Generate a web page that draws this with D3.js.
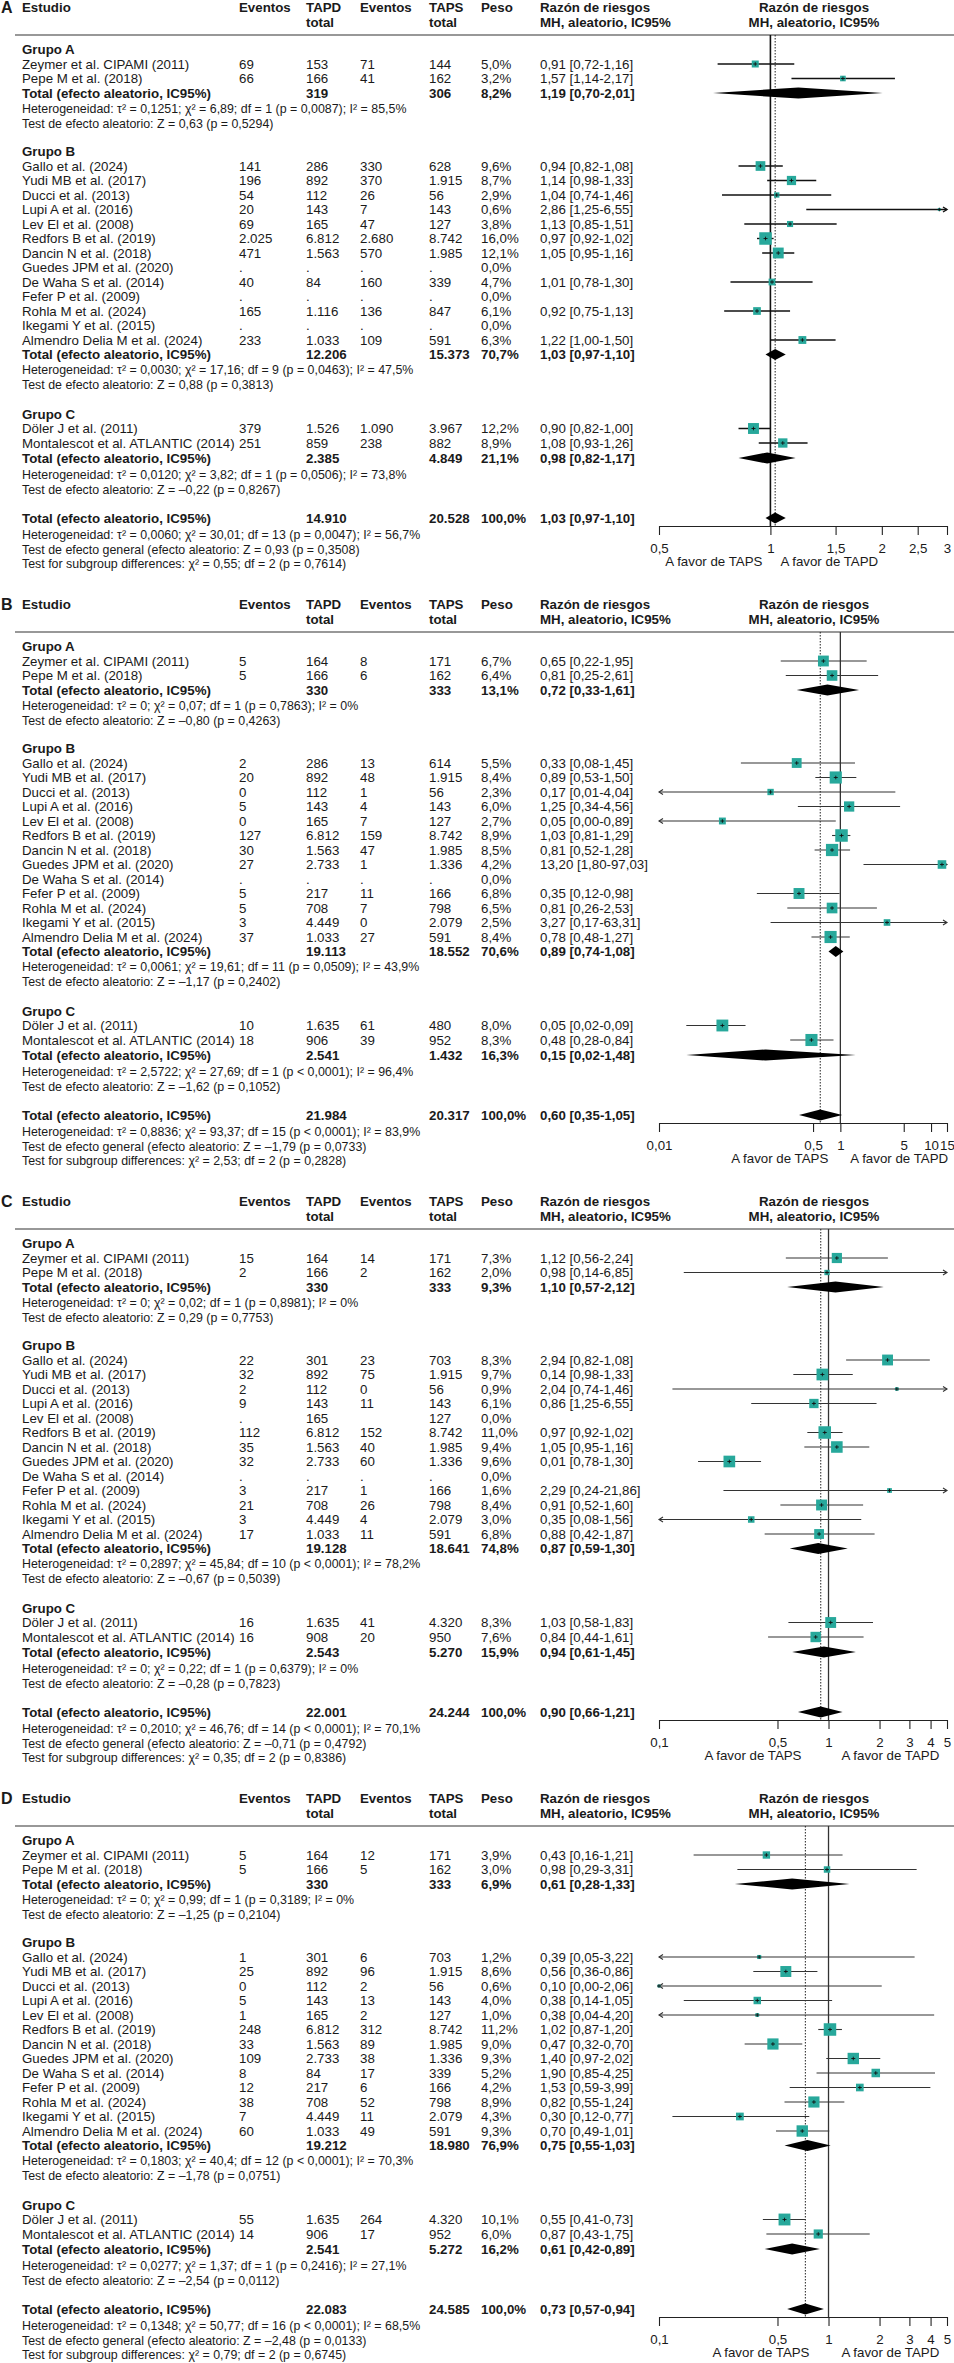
<!DOCTYPE html>
<html><head><meta charset="utf-8">
<script src="https://cdn.jsdelivr.net/npm/d3@7"></script>
<style>
body{margin:0;background:#fff}
svg{display:block}
text{font-family:"Liberation Sans",Arial,Helvetica,sans-serif;fill:#1a1a1a}
</style>
</head><body>
<svg id="chart" width="954" height="2363"></svg>
<script>
// ---------- shared labels ----------
const studyNames = ["Zeymer et al. CIPAMI (2011)","Pepe M et al. (2018)",
 "Gallo et al. (2024)","Yudi MB et al. (2017)","Ducci et al. (2013)","Lupi A et al. (2016)","Lev El et al. (2008)",
 "Redfors B et al. (2019)","Dancin N et al. (2018)","Guedes JPM et al. (2020)","De Waha S et al. (2014)",
 "Fefer P et al. (2009)","Rohla M et al. (2024)","Ikegami Y et al. (2015)","Almendro Delia M et al. (2024)",
 "Döler J et al. (2011)","Montalescot et al. ATLANTIC (2014)"];
const groupNames = ["Grupo A","Grupo B","Grupo C"];
const totalLabel = "Total (efecto aleatorio, IC95%)";

// ---------- Panel A ----------
const A_evD  = ["69","66","141","196","54","20","69","2.025","471",".","40",".","165",".","233","379","251"];
const A_totD = ["153","166","286","892","112","143","165","6.812","1.563",".","84",".","1.116",".","1.033","1.526","859"];
const A_evS  = ["71","41","330","370","26","7","47","2.680","570",".","160",".","136",".","109","1.090","238"];
const A_totS = ["144","162","628","1.915","56","143","127","8.742","1.985",".","339",".","847",".","591","3.967","882"];
const A_peso = ["5,0%","3,2%","9,6%","8,7%","2,9%","0,6%","3,8%","16,0%","12,1%","0,0%","4,7%","0,0%","6,1%","0,0%","6,3%","12,2%","8,9%"];
const A_rr   = ["0,91 [0,72-1,16]","1,57 [1,14-2,17]","0,94 [0,82-1,08]","1,14 [0,98-1,33]","1,04 [0,74-1,46]","2,86 [1,25-6,55]","1,13 [0,85-1,51]","0,97 [0,92-1,02]","1,05 [0,95-1,16]","","1,01 [0,78-1,30]","","0,92 [0,75-1,13]","","1,22 [1,00-1,50]","0,90 [0,82-1,00]","1,08 [0,93-1,26]"];
const A_est  = [0.91,1.57,0.94,1.14,1.04,2.86,1.13,0.97,1.05,null,1.01,null,0.92,null,1.22,0.90,1.08];
const A_lo   = [0.72,1.14,0.82,0.98,0.74,1.25,0.85,0.92,0.95,null,0.78,null,0.75,null,1.00,0.82,0.93];
const A_hi   = [1.16,2.17,1.08,1.33,1.46,6.55,1.51,1.02,1.16,null,1.30,null,1.13,null,1.50,1.00,1.26];
const A_w    = [5.0,3.2,9.6,8.7,2.9,0.6,3.8,16.0,12.1,0,4.7,0,6.1,0,6.3,12.2,8.9];
const A_sumTotD = ["319","12.206","2.385","14.910"];
const A_sumTotS = ["306","15.373","4.849","20.528"];
const A_sumPeso = ["8,2%","70,7%","21,1%","100,0%"];
const A_sumRR   = ["1,19 [0,70-2,01]","1,03 [0,97-1,10]","0,98 [0,82-1,17]","1,03 [0,97-1,10]"];
const A_sumEst  = [1.19,1.03,0.98,1.03];
const A_sumLo   = [0.70,0.97,0.82,0.97];
const A_sumHi   = [2.01,1.10,1.17,1.10];
const A_het = [
 ["Heterogeneidad: τ² = 0,1251; χ² = 6,89; df = 1 (p = 0,0087); I² = 85,5%","Test de efecto aleatorio: Z = 0,63 (p = 0,5294)"],
 ["Heterogeneidad: τ² = 0,0030; χ² = 17,16; df = 9 (p = 0,0463); I² = 47,5%","Test de efecto aleatorio: Z = 0,88 (p = 0,3813)"],
 ["Heterogeneidad: τ² = 0,0120; χ² = 3,82; df = 1 (p = 0,0506); I² = 73,8%","Test de efecto aleatorio: Z = –0,22 (p = 0,8267)"],
 ["Heterogeneidad: τ² = 0,0060; χ² = 30,01; df = 13 (p = 0,0047); I² = 56,7%","Test de efecto general (efecto aleatorio: Z = 0,93 (p = 0,3508)","Test for subgroup differences: χ² = 0,55; df = 2 (p = 0,7614)"]];
const A_ticks = [0.5,1,1.5,2,2.5,3];
const A_tickLabels = ["0,5","1","1,5","2","2,5","3"];

// ---------- Panel B ----------
const B_evD  = ["5","5","2","20","0","5","0","127","30","27",".","5","5","3","37","10","18"];
const B_totD = ["164","166","286","892","112","143","165","6.812","1.563","2.733",".","217","708","4.449","1.033","1.635","906"];
const B_evS  = ["8","6","13","48","1","4","7","159","47","1",".","11","7","0","27","61","39"];
const B_totS = ["171","162","614","1.915","56","143","127","8.742","1.985","1.336",".","166","798","2.079","591","480","952"];
const B_peso = ["6,7%","6,4%","5,5%","8,4%","2,3%","6,0%","2,7%","8,9%","8,5%","4,2%","0,0%","6,8%","6,5%","2,5%","8,4%","8,0%","8,3%"];
const B_rr   = ["0,65 [0,22-1,95]","0,81 [0,25-2,61]","0,33 [0,08-1,45]","0,89 [0,53-1,50]","0,17 [0,01-4,04]","1,25 [0,34-4,56]","0,05 [0,00-0,89]","1,03 [0,81-1,29]","0,81 [0,52-1,28]","13,20 [1,80-97,03]","","0,35 [0,12-0,98]","0,81 [0,26-2,53]","3,27 [0,17-63,31]","0,78 [0,48-1,27]","0,05 [0,02-0,09]","0,48 [0,28-0,84]"];
const B_est  = [0.65,0.81,0.33,0.89,0.17,1.25,0.05,1.03,0.81,13.20,null,0.35,0.81,3.27,0.78,0.05,0.48];
const B_lo   = [0.22,0.25,0.08,0.53,0.01,0.34,0.00,0.81,0.52,1.80,null,0.12,0.26,0.17,0.48,0.02,0.28];
const B_hi   = [1.95,2.61,1.45,1.50,4.04,4.56,0.89,1.29,1.28,97.03,null,0.98,2.53,63.31,1.27,0.09,0.84];
const B_w    = [6.7,6.4,5.5,8.4,2.3,6.0,2.7,8.9,8.5,4.2,0,6.8,6.5,2.5,8.4,8.0,8.3];
const B_sumTotD = ["330","19.113","2.541","21.984"];
const B_sumTotS = ["333","18.552","1.432","20.317"];
const B_sumPeso = ["13,1%","70,6%","16,3%","100,0%"];
const B_sumRR   = ["0,72 [0,33-1,61]","0,89 [0,74-1,08]","0,15 [0,02-1,48]","0,60 [0,35-1,05]"];
const B_sumEst  = [0.72,0.89,0.15,0.60];
const B_sumLo   = [0.33,0.74,0.02,0.35];
const B_sumHi   = [1.61,1.08,1.48,1.05];
const B_het = [
 ["Heterogeneidad: τ² = 0; χ² = 0,07; df = 1 (p = 0,7863); I² = 0%","Test de efecto aleatorio: Z = –0,80 (p = 0,4263)"],
 ["Heterogeneidad: τ² = 0,0061; χ² = 19,61; df = 11 (p = 0,0509); I² = 43,9%","Test de efecto aleatorio: Z = –1,17 (p = 0,2402)"],
 ["Heterogeneidad: τ² = 2,5722; χ² = 27,69; df = 1 (p < 0,0001); I² = 96,4%","Test de efecto aleatorio: Z = –1,62 (p = 0,1052)"],
 ["Heterogeneidad: τ² = 0,8836; χ² = 93,37; df = 15 (p < 0,0001); I² = 83,9%","Test de efecto general (efecto aleatorio: Z = –1,79 (p = 0,0733)","Test for subgroup differences: χ² = 2,53; df = 2 (p = 0,2828)"]];
const B_ticks = [0.01,0.5,1,5,10,15];
const B_tickLabels = ["0,01","0,5","1","5","10","15"];

// ---------- Panel C ----------
const C_evD  = ["15","2","22","32","2","9",".","112","35","32",".","3","21","3","17","16","16"];
const C_totD = ["164","166","301","892","112","143","165","6.812","1.563","2.733",".","217","708","4.449","1.033","1.635","908"];
const C_evS  = ["14","2","23","75","0","11","","152","40","60",".","1","26","4","11","41","20"];
const C_totS = ["171","162","703","1.915","56","143","127","8.742","1.985","1.336",".","166","798","2.079","591","4.320","950"];
const C_peso = ["7,3%","2,0%","8,3%","9,7%","0,9%","6,1%","0,0%","11,0%","9,4%","9,6%","0,0%","1,6%","8,4%","3,0%","6,8%","8,3%","7,6%"];
const C_rr   = ["1,12 [0,56-2,24]","0,98 [0,14-6,85]","2,94 [0,82-1,08]","0,14 [0,98-1,33]","2,04 [0,74-1,46]","0,86 [1,25-6,55]","","0,97 [0,92-1,02]","1,05 [0,95-1,16]","0,01 [0,78-1,30]","","2,29 [0,24-21,86]","0,91 [0,52-1,60]","0,35 [0,08-1,56]","0,88 [0,42-1,87]","1,03 [0,58-1,83]","0,84 [0,44-1,61]"];
const C_est  = [1.12,0.98,2.23,0.92,2.53,0.82,null,0.95,1.12,0.26,null,2.29,0.91,0.35,0.88,1.03,0.84];
const C_lo   = [0.56,0.14,1.27,0.62,0.12,0.35,null,0.75,0.72,0.17,null,0.24,0.52,0.08,0.42,0.58,0.44];
const C_hi   = [2.24,6.85,3.96,1.39,52.0,1.92,null,1.21,1.74,0.40,null,21.86,1.60,1.56,1.87,1.83,1.61];
const C_w    = [7.3,2.0,8.3,9.7,0.9,6.1,0,11.0,9.4,9.6,0,1.6,8.4,3.0,6.8,8.3,7.6];
const C_sumTotD = ["330","19.128","2.543","22.001"];
const C_sumTotS = ["333","18.641","5.270","24.244"];
const C_sumPeso = ["9,3%","74,8%","15,9%","100,0%"];
const C_sumRR   = ["1,10 [0,57-2,12]","0,87 [0,59-1,30]","0,94 [0,61-1,45]","0,90 [0,66-1,21]"];
const C_sumEst  = [1.10,0.87,0.94,0.90];
const C_sumLo   = [0.57,0.59,0.61,0.66];
const C_sumHi   = [2.12,1.30,1.45,1.21];
const C_het = [
 ["Heterogeneidad: τ² = 0; χ² = 0,02; df = 1 (p = 0,8981); I² = 0%","Test de efecto aleatorio: Z = 0,29 (p = 0,7753)"],
 ["Heterogeneidad: τ² = 0,2897; χ² = 45,84; df = 10 (p < 0,0001); I² = 78,2%","Test de efecto aleatorio: Z = –0,67 (p = 0,5039)"],
 ["Heterogeneidad: τ² = 0; χ² = 0,22; df = 1 (p = 0,6379); I² = 0%","Test de efecto aleatorio: Z = –0,28 (p = 0,7823)"],
 ["Heterogeneidad: τ² = 0,2010; χ² = 46,76; df = 14 (p < 0,0001); I² = 70,1%","Test de efecto general (efecto aleatorio: Z = –0,71 (p = 0,4792)","Test for subgroup differences: χ² = 0,35; df = 2 (p = 0,8386)"]];
const C_ticks = [0.1,0.5,1,2,3,4,5];
const C_tickLabels = ["0,1","0,5","1","2","3","4","5"];

// ---------- Panel D ----------
const D_evD  = ["5","5","1","25","0","5","1","248","33","109","8","12","38","7","60","55","14"];
const D_totD = ["164","166","301","892","112","143","165","6.812","1.563","2.733","84","217","708","4.449","1.033","1.635","906"];
const D_evS  = ["12","5","6","96","2","13","2","312","89","38","17","6","52","11","49","264","17"];
const D_totS = ["171","162","703","1.915","56","143","127","8.742","1.985","1.336","339","166","798","2.079","591","4.320","952"];
const D_peso = ["3,9%","3,0%","1,2%","8,6%","0,6%","4,0%","1,0%","11,2%","9,0%","9,3%","5,2%","4,2%","8,9%","4,3%","9,3%","10,1%","6,0%"];
const D_rr   = ["0,43 [0,16-1,21]","0,98 [0,29-3,31]","0,39 [0,05-3,22]","0,56 [0,36-0,86]","0,10 [0,00-2,06]","0,38 [0,14-1,05]","0,38 [0,04-4,20]","1,02 [0,87-1,20]","0,47 [0,32-0,70]","1,40 [0,97-2,02]","1,90 [0,85-4,25]","1,53 [0,59-3,99]","0,82 [0,55-1,24]","0,30 [0,12-0,77]","0,70 [0,49-1,01]","0,55 [0,41-0,73]","0,87 [0,43-1,75]"];
const D_est  = [0.43,0.98,0.39,0.56,0.10,0.38,0.38,1.02,0.47,1.40,1.90,1.53,0.82,0.30,0.70,0.55,0.87];
const D_lo   = [0.16,0.29,0.05,0.36,0.00,0.14,0.04,0.87,0.32,0.97,0.85,0.59,0.55,0.12,0.49,0.41,0.43];
const D_hi   = [1.21,3.31,3.22,0.86,2.06,1.05,4.20,1.20,0.70,2.02,4.25,3.99,1.24,0.77,1.01,0.73,1.75];
const D_w    = [3.9,3.0,1.2,8.6,0.6,4.0,1.0,11.2,9.0,9.3,5.2,4.2,8.9,4.3,9.3,10.1,6.0];
const D_sumTotD = ["330","19.212","2.541","22.083"];
const D_sumTotS = ["333","18.980","5.272","24.585"];
const D_sumPeso = ["6,9%","76,9%","16,2%","100,0%"];
const D_sumRR   = ["0,61 [0,28-1,33]","0,75 [0,55-1,03]","0,61 [0,42-0,89]","0,73 [0,57-0,94]"];
const D_sumEst  = [0.61,0.75,0.61,0.73];
const D_sumLo   = [0.28,0.55,0.42,0.57];
const D_sumHi   = [1.33,1.03,0.89,0.94];
const D_het = [
 ["Heterogeneidad: τ² = 0; χ² = 0,99; df = 1 (p = 0,3189; I² = 0%","Test de efecto aleatorio: Z = –1,25 (p = 0,2104)"],
 ["Heterogeneidad: τ² = 0,1803; χ² = 40,4; df = 12 (p < 0,0001); I² = 70,3%","Test de efecto aleatorio: Z = –1,78 (p = 0,0751)"],
 ["Heterogeneidad: τ² = 0,0277; χ² = 1,37; df = 1 (p = 0,2416); I² = 27,1%","Test de efecto aleatorio: Z = –2,54 (p = 0,0112)"],
 ["Heterogeneidad: τ² = 0,1348; χ² = 50,77; df = 16 (p < 0,0001); I² = 68,5%","Test de efecto general (efecto aleatorio: Z = –2,48 (p = 0,0133)","Test for subgroup differences: χ² = 0,79; df = 2 (p = 0,6745)"]];
const D_ticks = [0.1,0.5,1,2,3,4,5];
const D_tickLabels = ["0,1","0,5","1","2","3","4","5"];

// ---------- panel assembly ----------
const panels = [
 {letter:"A", evD:A_evD, totD:A_totD, evS:A_evS, totS:A_totS, peso:A_peso, rr:A_rr, est:A_est, lo:A_lo, hi:A_hi, w:A_w,
  sTotD:A_sumTotD, sTotS:A_sumTotS, sPeso:A_sumPeso, sRR:A_sumRR, sEst:A_sumEst, sLo:A_sumLo, sHi:A_sumHi, het:A_het,
  ticks:A_ticks, tickLabels:A_tickLabels, favL:8, favR:10, lc:"#111", lw:1.4},
 {letter:"B", evD:B_evD, totD:B_totD, evS:B_evS, totS:B_totS, peso:B_peso, rr:B_rr, est:B_est, lo:B_lo, hi:B_hi, w:B_w,
  sTotD:B_sumTotD, sTotS:B_sumTotS, sPeso:B_sumPeso, sRR:B_sumRR, sEst:B_sumEst, sLo:B_sumLo, sHi:B_sumHi, het:B_het,
  ticks:B_ticks, tickLabels:B_tickLabels, favL:12, favR:10, lc:"#333", lw:1.1},
 {letter:"C", evD:C_evD, totD:C_totD, evS:C_evS, totS:C_totS, peso:C_peso, rr:C_rr, est:C_est, lo:C_lo, hi:C_hi, w:C_w,
  sTotD:C_sumTotD, sTotS:C_sumTotS, sPeso:C_sumPeso, sRR:C_sumRR, sEst:C_sumEst, sLo:C_sumLo, sHi:C_sumHi, het:C_het,
  ticks:C_ticks, tickLabels:C_tickLabels, favL:27, favR:13, lc:"#333", lw:1.1},
 {letter:"D", evD:D_evD, totD:D_totD, evS:D_evS, totS:D_totS, peso:D_peso, rr:D_rr, est:D_est, lo:D_lo, hi:D_hi, w:D_w,
  sTotD:D_sumTotD, sTotS:D_sumTotS, sPeso:D_sumPeso, sRR:D_sumRR, sEst:D_sumEst, sLo:D_sumLo, sHi:D_sumHi, het:D_het,
  ticks:D_ticks, tickLabels:D_tickLabels, favL:19, favR:13, lc:"#333", lw:1.1}
];

// ---------- layout ----------
const panelY = d3.scaleLinear().domain([0,1]).range([7, 604]);   // panel top (header text centre)
const COL = {study:22, evD:239, totD:306, evS:360, totS:429, peso:481, rr:540, plotHead:814};
const XR = [659, 947];
const FS = 13.3, FSH = 12.4;
const TEAL = "#27a89b";
const L = {h1:0, h2:15.5, rule:28, grp:[42,144,407], tot:[86,347.5,451],
  het:[[102,117],[362.5,377.5],[468,483]], overall:511, overallHet:[528,542.5,557],
  axis:519, tickLab:541, favor:554};
function studyY(i){ return i<2 ? 57+14.5*i : (i<15 ? 159+14.5*(i-2) : 421.5+14.5*(i-15)); }

const svg = d3.select("#chart");

panels.forEach((p, pi) => {
  const g = svg.append("g").attr("transform", `translate(0,${panelY(pi)})`);
  const txt = (x, y, s, opt={}) => g.append("text").attr("x", x).attr("y", y).attr("dy","0.35em")
     .attr("font-size", opt.fs||FS).attr("font-weight", opt.bold?"bold":"normal")
     .attr("text-anchor", opt.anchor||"start").text(s);

  // panel letter
  txt(1, L.h1, p.letter, {bold:true, fs:16});
  // header
  txt(COL.study, L.h1, "Estudio", {bold:true});
  txt(COL.evD, L.h1, "Eventos", {bold:true});
  txt(COL.totD, L.h1, "TAPD", {bold:true}); txt(COL.totD, L.h2, "total", {bold:true});
  txt(COL.evS, L.h1, "Eventos", {bold:true});
  txt(COL.totS, L.h1, "TAPS", {bold:true}); txt(COL.totS, L.h2, "total", {bold:true});
  txt(COL.peso, L.h1, "Peso", {bold:true});
  txt(COL.rr, L.h1, "Razón de riesgos", {bold:true}); txt(COL.rr, L.h2, "MH, aleatorio, IC95%", {bold:true});
  txt(COL.plotHead, L.h1, "Razón de riesgos", {bold:true, anchor:"middle"});
  txt(COL.plotHead, L.h2, "MH, aleatorio, IC95%", {bold:true, anchor:"middle"});
  g.append("line").attr("x1", 15).attr("x2", 954).attr("y1", L.rule).attr("y2", L.rule)
    .attr("stroke", "#333").attr("stroke-width", 1.2);

  const x = d3.scaleLog().domain([p.ticks[0], p.ticks[p.ticks.length-1]]).range(XR);
  const [dmin, dmax] = x.domain();

  // reference lines
  g.append("line").attr("x1", x(1)).attr("x2", x(1)).attr("y1", L.rule).attr("y2", L.axis)
    .attr("stroke", p.lc).attr("stroke-width", p.lw+0.2);
  const ov = p.sEst[3];
  g.append("line").attr("x1", x(ov)).attr("x2", x(ov)).attr("y1", L.rule).attr("y2", L.axis)
    .attr("stroke", "#222").attr("stroke-width", 1).attr("stroke-dasharray", "1.5,1.5");

  // group labels, totals, heterogeneity
  groupNames.forEach((gn, k) => {
    txt(COL.study, L.grp[k], gn, {bold:true});
    const ty = L.tot[k];
    txt(COL.study, ty, totalLabel, {bold:true});
    txt(COL.totD, ty, p.sTotD[k], {bold:true});
    txt(COL.totS, ty, p.sTotS[k], {bold:true});
    txt(COL.peso, ty, p.sPeso[k], {bold:true});
    txt(COL.rr, ty, p.sRR[k], {bold:true});
    p.het[k].forEach((s, j) => txt(COL.study, L.het[k][j], s, {fs:FSH}));
  });
  // overall
  txt(COL.study, L.overall, totalLabel, {bold:true});
  txt(COL.totD, L.overall, p.sTotD[3], {bold:true});
  txt(COL.totS, L.overall, p.sTotS[3], {bold:true});
  txt(COL.peso, L.overall, p.sPeso[3], {bold:true});
  txt(COL.rr, L.overall, p.sRR[3], {bold:true});
  p.het[3].forEach((s, j) => txt(COL.study, L.overallHet[j], s, {fs:FSH}));

  // study rows text
  studyNames.forEach((s, i) => {
    const y = studyY(i);
    txt(COL.study, y, s);
    txt(COL.evD, y, p.evD[i]);
    txt(COL.totD, y, p.totD[i]);
    txt(COL.evS, y, p.evS[i]);
    txt(COL.totS, y, p.totS[i]);
    txt(COL.peso, y, p.peso[i]);
    txt(COL.rr, y, p.rr[i]);
  });

  // study markers
  const wmax = d3.max(p.w);
  const side = d3.scaleSqrt().domain([0, wmax]).range([0, 12.5]);
  studyNames.forEach((s, i) => {
    if (p.est[i] == null) return;
    const y = studyY(i);
    const lo = p.lo[i], hi = p.hi[i], est = p.est[i];
    const xl = x(Math.max(lo, dmin)), xh = x(Math.min(hi, dmax));
    const cl = p.lc;
    g.append("line").attr("x1", xl).attr("x2", xh).attr("y1", y).attr("y2", y)
      .attr("stroke", cl).attr("stroke-width", p.lw);
    if (lo <= dmin) g.append("path").attr("d", `M${xl+4},${y-2.5}L${xl},${y}L${xl+4},${y+2.5}`)
      .attr("fill","none").attr("stroke", cl).attr("stroke-width", p.lw);
    if (hi >= dmax) g.append("path").attr("d", `M${xh-4},${y-2.5}L${xh},${y}L${xh-4},${y+2.5}`)
      .attr("fill","none").attr("stroke", cl).attr("stroke-width", p.lw);
    const sz = Math.max(3, side(p.w[i]));
    const cx = x(Math.max(est, dmin));
    g.append("rect").attr("x", cx - sz/2).attr("y", y - sz/2).attr("width", sz).attr("height", sz)
      .attr("fill", TEAL);
    g.append("line").attr("x1", cx-2).attr("x2", cx+2).attr("y1", y).attr("y2", y).attr("stroke","#111").attr("stroke-width",0.9);
    g.append("line").attr("x1", cx).attr("x2", cx).attr("y1", y-1.8).attr("y2", y+1.8).attr("stroke","#111").attr("stroke-width",0.9);
  });

  // diamonds
  const dy = [L.tot[0], L.tot[1], L.tot[2], L.overall];
  dy.forEach((y, k) => {
    const a = x(Math.max(p.sLo[k], dmin)), c = x(p.sEst[k]), b = x(Math.min(p.sHi[k], dmax));
    g.append("path").attr("d", `M${a},${y}L${c},${y-5.5}L${b},${y}L${c},${y+5.5}Z`).attr("fill", "#000");
  });

  // axis
  const ax = g.append("g").attr("transform", `translate(0,${L.axis})`)
    .call(d3.axisBottom(x).tickValues(p.ticks).tickFormat((d,i)=>p.tickLabels[i]).tickSize(9).tickSizeOuter(0));
  ax.select(".domain").attr("stroke", "#222").attr("stroke-width", 1.2);
  ax.selectAll(".tick line").attr("stroke", "#222").attr("stroke-width", 1.1);
  ax.selectAll(".tick text").attr("y", L.tickLab - L.axis).attr("dy", "0.35em")
    .attr("font-size", FS).attr("fill", "#1a1a1a")
    .attr("font-family", "'Liberation Sans',Arial,sans-serif");
  txt(x(1) - p.favL, L.favor, "A favor de TAPS", {anchor:"end"});
  txt(x(1) + p.favR, L.favor, "A favor de TAPD");
});
</script>
</body></html>
